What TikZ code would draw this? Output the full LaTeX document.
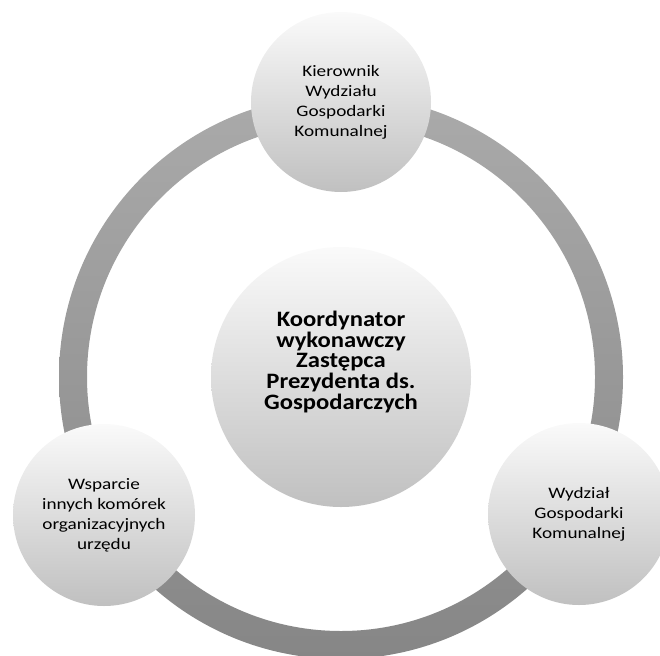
\documentclass[tikz,border=0pt]{standalone}
\usepackage{fontspec}
\newfontfamily\smallf[FakeStretch=1.2]{Carlito}
\newfontfamily\bigf[FakeStretch=1.12]{Carlito}
\definecolor{ringtop}{RGB}{170,170,170}
\definecolor{ringbot}{RGB}{134,134,134}
\definecolor{ctop}{RGB}{250,250,250}
\definecolor{cbot}{RGB}{192,192,192}
\begin{document}
\begin{tikzpicture}[x=1pt,y=-1pt,
  bubble/.style={circle, inner sep=0pt, top color=ctop, bottom color=cbot, draw=none},
  smalltext/.style={align=center, font=\smallf\fontsize{16}{20}\selectfont, text=black},
  bigtext/.style={align=center, font=\bigf\bfseries\fontsize{22}{20.7}\selectfont, text=black}]
\useasboundingbox (0,0) rectangle (660,655);
% ring
\shade[top color=ringtop, bottom color=ringbot, even odd rule]
  (341,377) circle[radius=282] (341,377) circle[radius=254];
% circles
\node[bubble, minimum size=180pt] (top) at (341,102) {};
\node[smalltext] (toptext) at (top.center) {Kierownik\\Wydziału\\Gospodarki\\Komunalnej};
\node[bubble, minimum size=260pt] (center) at (341,377) {};
\node[bigtext] (centertext) at (341,362) {Koordynator\\wykonawczy\\Zastępca\\Prezydenta ds.\\Gospodarczych};
\node[bubble, minimum size=182pt] (left) at (104,515) {};
\node[smalltext] (lefttext) at (left.center) {Wsparcie\\innych komórek\\organizacyjnych\\urzędu};
\node[bubble, minimum size=182pt] (right) at (579,514) {};
\node[smalltext] (righttext) at (right.center) {Wydział\\Gospodarki\\Komunalnej};
\end{tikzpicture}
\end{document}
